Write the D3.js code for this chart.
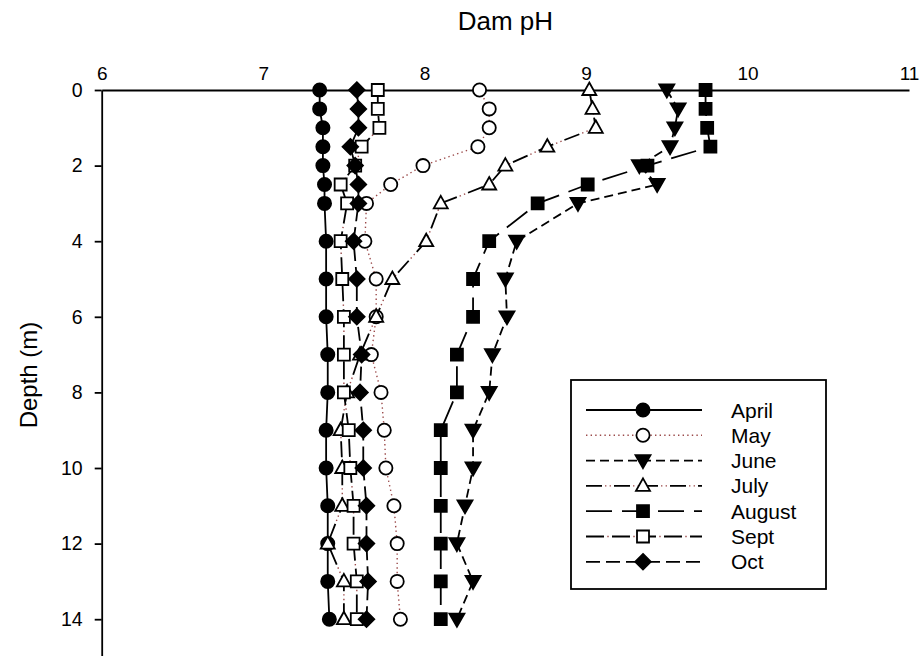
<!DOCTYPE html>
<html>
<head>
<meta charset="utf-8">
<script src="https://cdn.jsdelivr.net/npm/d3@7/dist/d3.min.js"></script>
<style>
  html, body { margin: 0; padding: 0; background: #fff; }
  svg { display: block; font-family: "Liberation Sans", Arial, sans-serif; }
</style>
</head>
<body>
<svg id="chart" width="920" height="656"></svg>
<script>
// Depth profile of dam pH by month
const depths = [0, 0.5, 1, 1.5, 2, 2.5, 3, 4, 5, 6, 7, 8, 9, 10, 11, 12, 13, 14];
const april  = [7.35, 7.35, 7.37, 7.37, 7.37, 7.38, 7.38, 7.39, 7.39, 7.39, 7.40, 7.40, 7.39, 7.39, 7.40, 7.40, 7.40, 7.41];
const may    = [8.34, 8.40, 8.40, 8.33, 7.99, 7.79, 7.64, 7.63, 7.70, 7.70, 7.67, 7.73, 7.75, 7.76, 7.81, 7.83, 7.83, 7.85];
const june   = [9.50, 9.57, 9.55, 9.52, 9.33, 9.44, 8.95, 8.57, 8.50, 8.51, 8.42, 8.40, 8.30, 8.30, 8.25, 8.20, 8.30, 8.20];
const july   = [9.02, 9.04, 9.06, 8.76, 8.50, 8.40, 8.10, 8.01, 7.80, 7.70, 7.60, 7.52, 7.48, 7.49, 7.49, 7.40, 7.50, 7.50];
const august = [9.74, 9.74, 9.75, 9.77, 9.38, 9.01, 8.70, 8.40, 8.30, 8.30, 8.20, 8.20, 8.10, 8.10, 8.10, 8.10, 8.10, 8.10];
const sept   = [7.71, 7.71, 7.72, 7.61, 7.57, 7.48, 7.52, 7.48, 7.49, 7.50, 7.50, 7.50, 7.53, 7.54, 7.56, 7.56, 7.58, 7.58];
const oct    = [7.58, 7.59, 7.59, 7.54, 7.57, 7.59, 7.59, 7.56, 7.58, 7.58, 7.61, 7.60, 7.62, 7.62, 7.64, 7.64, 7.65, 7.64];

const months = ["April", "May", "June", "July", "August", "Sept", "Oct"];
const xTicks = [6, 7, 8, 9, 10, 11];
const yTicks = [0, 2, 4, 6, 8, 10, 12, 14];

const BROWN = "#9b4a4a";
const BLACK = "#000";

// stroke layers per series (black dashes plus brown dots where the pattern has them)
const styles = {
  April:  { shape: "circle",   fill: BLACK, layers: [{ c: BLACK, d: null, o: 0, w: 1.8 }] },
  May:    { shape: "circle",   fill: "#fff", layers: [{ c: BROWN, d: "1.4 3.2", o: 0, w: 1.4 }] },
  June:   { shape: "triDown",  fill: BLACK, layers: [{ c: BLACK, d: "9 5", o: 0, w: 1.8 }] },
  July:   { shape: "triUp",    fill: "#fff", layers: [{ c: BLACK, d: "16 12", o: 0, w: 1.8 },
                                                   { c: BROWN, d: "1.4 3.2 1.4 22", o: 9, w: 1.4 }] },
  August: { shape: "square",   fill: BLACK, layers: [{ c: BLACK, d: "26 10", o: 0, w: 1.8 }] },
  Sept:   { shape: "square",   fill: "#fff", layers: [{ c: BLACK, d: "18 8", o: 0, w: 1.8 },
                                                   { c: BROWN, d: "1.4 24.6", o: 4.7, w: 1.4 }] },
  Oct:    { shape: "diamond",  fill: BLACK, layers: [{ c: BLACK, d: "14 6", o: 0, w: 1.8 }] }
};

const seriesValues = { April: april, May: may, June: june, July: july, August: august, Sept: sept, Oct: oct };

const svg = d3.select("#chart");

const x = d3.scaleLinear().domain([6, 11]).range([101.7, 909]);
const y = d3.scaleLinear().domain([0, 15]).range([90, 657]);

// marker path generators, centred on 0,0
function markerPath(shape) {
  switch (shape) {
    case "circle": {
      const r = 6.6;
      return `M${-r},0A${r},${r} 0 1,0 ${r},0A${r},${r} 0 1,0 ${-r},0Z`;
    }
    case "square": {
      const h = 6;
      return `M${-h},${-h}H${h}V${h}H${-h}Z`;
    }
    case "diamond": {
      const h = 7.8;
      return `M0,${-h}L${h},0L0,${h}L${-h},0Z`;
    }
    case "triUp": {
      const w = 7, t = 7.5, b = 5;
      return `M0,${-t}L${w},${b}L${-w},${b}Z`;
    }
    case "triDown": {
      const w = 7.5, t = 7.5, b = 5.5;
      return `M0,${t}L${w},${-b}L${-w},${-b}Z`;
    }
  }
}

function drawMarker(g, shape, fill, cx, cy) {
  g.append("path")
    .attr("d", markerPath(shape))
    .attr("transform", `translate(${cx},${cy})`)
    .attr("fill", fill)
    .attr("stroke", BLACK)
    .attr("stroke-width", 1.8);
}

function strokeLayers(g, d, layers) {
  layers.forEach(l => {
    const p = g.append("path")
      .attr("d", d)
      .attr("fill", "none")
      .attr("stroke", l.c)
      .attr("stroke-width", l.w);
    if (l.d) p.attr("stroke-dasharray", l.d).attr("stroke-dashoffset", l.o);
  });
}

// axes
const yAxis = d3.axisLeft(y).tickValues(yTicks).tickFormat(d3.format("d"))
  .tickSize(7).tickSizeOuter(0).tickPadding(12);
const gy = svg.append("g").attr("transform", `translate(${x(6)},0)`).call(yAxis);
gy.select(".domain").attr("stroke-width", 1.8);
gy.selectAll(".tick line").attr("stroke-width", 1.8);
gy.selectAll(".tick text").attr("font-size", 19.5).attr("fill", "#000")
  .attr("font-family", "Liberation Sans, Arial, sans-serif");

const xAxis = d3.axisTop(x).tickValues(xTicks).tickFormat(d3.format("d"))
  .tickSize(0).tickSizeOuter(0).tickPadding(10);
const gx = svg.append("g").attr("transform", `translate(0,${y(0)})`).call(xAxis);
gx.select(".domain").attr("stroke-width", 1.8);
gx.selectAll(".tick text").attr("font-size", 19).attr("fill", "#000")
  .attr("font-family", "Liberation Sans, Arial, sans-serif");

// titles
svg.append("text")
  .attr("x", (x(6) + x(11)) / 2).attr("y", 30)
  .attr("text-anchor", "middle").attr("font-size", 26)
  .text("Dam pH");

svg.append("text")
  .attr("transform", `translate(37,375) rotate(-90)`)
  .attr("text-anchor", "middle").attr("font-size", 24)
  .text("Depth (m)");

// series
const line = d3.line().x(d => x(d.v)).y(d => y(d.depth));
const plot = svg.append("g");
months.forEach(m => {
  const st = styles[m];
  const pts = depths.map((depth, i) => ({ depth, v: seriesValues[m][i] }));
  const g = plot.append("g").attr("class", "series-" + m);
  strokeLayers(g, line(pts), st.layers);
  pts.forEach(p => drawMarker(g, st.shape, st.fill, x(p.v), y(p.depth)));
});

// legend
const lg = svg.append("g");
lg.append("rect")
  .attr("x", 571).attr("y", 380).attr("width", 255).attr("height", 209)
  .attr("fill", "#fff").attr("stroke", BLACK).attr("stroke-width", 1.8);
months.forEach((m, i) => {
  const st = styles[m];
  const cy = 410 + i * 25.3;
  strokeLayers(lg, `M586,${cy}H702`, st.layers);
  drawMarker(lg, st.shape, st.fill, 643, cy);
  lg.append("text")
    .attr("x", 731).attr("y", cy + 7.5)
    .attr("font-size", 21)
    .text(m);
});
</script>
</body>
</html>
